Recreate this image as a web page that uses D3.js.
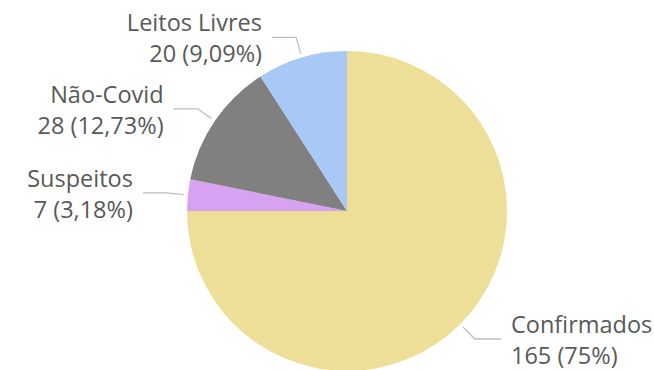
<!DOCTYPE html>
<html>
<head>
<meta charset="utf-8">
<script src="https://cdn.jsdelivr.net/npm/d3@7"></script>
<style>
  body { margin: 0; background: #fff; }
  svg text { font-family: "Open Sans", "Noto Sans", sans-serif; fill: #595959; }
</style>
</head>
<body>
<svg id="chart"></svg>
<script>
// data
var categories = ["Confirmados", "Suspeitos", "Não-Covid", "Leitos Livres"];
var values = [165, 7, 28, 20];
var colors = ["#EEDF98", "#D8A2F2", "#808080", "#A8C9F5"];

// chart settings
var width = 654,
    height = 370;
var cx = 347, cy = 211, radius = 160;

var svg = d3.select("#chart")
    .attr("width", width)
    .attr("height", height);

var total = d3.sum(values);
var locale = d3.formatLocale({decimal: ",", thousands: ".", grouping: [3], currency: ["R$", ""]});
var fmt = locale.format(".2f");
function pct(v) {
    // 75,00 -> 75
    return fmt(v / total * 100).replace(/,00$/, "") + "%";
}

var rows = categories.map(function(c, i) {
    return {name: c, value: values[i], color: colors[i]};
});

var pie = d3.pie().sort(null).value(function(d) { return d.value; });
var arc = d3.arc().innerRadius(0).outerRadius(radius);
var arcs = pie(rows);

var g = svg.append("g").attr("transform", "translate(" + cx + "," + cy + ")");

g.selectAll("path.slice")
    .data(arcs).enter()
    .append("path")
    .attr("class", "slice")
    .attr("d", arc)
    .attr("fill", function(d) { return d.data.color; });

// leader lines + labels
function polar(a, r) {
    return [Math.sin(a) * r, -Math.cos(a) * r];
}

arcs.forEach(function(d) {
    var mid = (d.startAngle + d.endAngle) / 2;
    var p0 = polar(mid, 164);
    var p1 = polar(mid, 181);
    var right = p1[0] > 0;
    var p2 = [p1[0] + (right ? 26 : -24), p1[1]];

    g.append("polyline")
        .attr("points", [p0, p1, p2].map(function(p) { return p.join(","); }).join(" "))
        .attr("fill", "none")
        .attr("stroke", "#BFBFBF")
        .attr("stroke-width", 1.3);

    var tx = p2[0] + (right ? 10 : -10);
    var t = g.append("text")
        .attr("text-anchor", right ? "start" : "end")
        .style("font-size", "23.5px");
    t.append("tspan").attr("x", tx).attr("y", p2[1] - 6).text(d.data.name);
    t.append("tspan").attr("x", tx).attr("y", p2[1] + 25)
        .text(d.data.value + " (" + pct(d.data.value) + ")");
});
</script>
</body>
</html>
